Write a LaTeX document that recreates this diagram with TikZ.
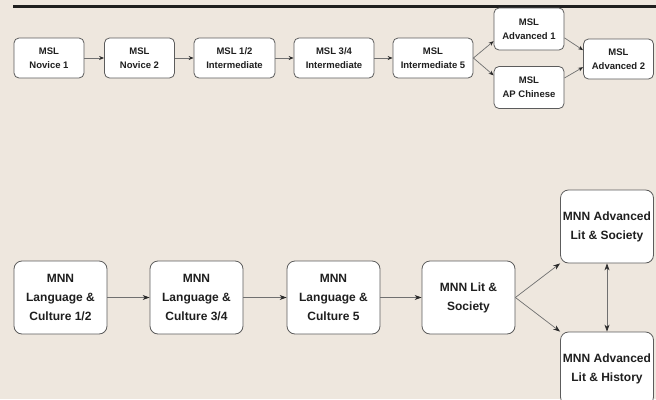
\documentclass[tikz,border=0pt]{standalone}
\usepackage{fontspec}
\setmainfont{Liberation Sans}
\usepackage{tikz}
\usetikzlibrary{
  arrows.meta,
  positioning
}
\definecolor{paper}{HTML}{EEE7DE}
\definecolor{ink}{HTML}{1F1F1F}
\definecolor{edge}{HTML}{5C5C5C}
\definecolor{wire}{HTML}{707070}
\definecolor{tip}{HTML}{2A2A2A}
\tikzset{
  course/.style={
    draw=edge,
    fill=white,
    line width=0.8pt,
    align=center,
    text=ink,
    inner sep=0pt
  },
  msl/.style={
    course,
    rounded corners=5pt,
    minimum width=70pt,
    minimum height=40pt,
    font=\bfseries\fontsize{9.5}{14}\selectfont
  },
  mnn/.style={
    course,
    rounded corners=8pt,
    minimum width=93pt,
    minimum height=73pt,
    font=\bfseries\fontsize{12}{19}\selectfont
  },
  step arrow/.style={
    -{Stealth[length=5pt, width=4pt, color=tip]},
    line width=0.7pt,
    draw=wire
  },
  big arrow/.style={
    -{Stealth[length=7pt, width=5pt, color=tip]},
    line width=0.7pt,
    draw=wire
  },
  both arrow/.style={
    big arrow,
    {Stealth[length=7pt, width=5pt, color=tip]}-{Stealth[length=7pt, width=5pt, color=tip]}
  }
}

\begin{document}
\begin{tikzpicture}[x=1pt,y=-1pt]
  % Page, background and top rule.
  \clip (0,0) rectangle (656,399);
  \fill[paper] (0,0) rectangle (656,399);
  \draw[line width=2.4pt, ink] (13,6.5) -- (656,6.5);

  % MSL track.
  \node[msl] (nov1) at (49,58) {MSL\\Novice 1};
  \node[msl] (nov2) at (139.5,58) {MSL\\Novice 2};
  \node[msl, minimum width=81pt] (int12) at (234.5,58) {MSL 1/2\\Intermediate};
  \node[msl, minimum width=80pt] (int34) at (334,58) {MSL 3/4\\Intermediate};
  \node[msl, minimum width=80pt] (int5) at (433,58) {MSL\\Intermediate 5};
  \node[msl, minimum height=42pt] (adv1) at (529,29) {MSL\\Advanced 1};
  \node[msl, minimum height=42pt] (apch) at (529,87.5) {MSL\\AP Chinese};
  \node[msl] (adv2) at (618.5,59) {MSL\\Advanced 2};

  \draw[step arrow] (nov1) -- (nov2);
  \draw[step arrow] (nov2) -- (int12);
  \draw[step arrow] (int12) -- (int34);
  \draw[step arrow] (int34) -- (int5);
  \draw[step arrow] (int5.east) -- (adv1.199);
  \draw[step arrow] (int5.east) -- (apch.161);
  \draw[step arrow] (adv1.346) -- (adv2.166);
  \draw[step arrow] (apch.15) -- (adv2.193);

  % MNN track.
  \node[mnn] (lc12) at (60.5,297.5) {MNN\\Language \&\\Culture 1/2};
  \node[mnn] (lc34) at (196.5,297.5) {MNN\\Language \&\\Culture 3/4};
  \node[mnn] (lc5) at (333.5,297.5) {MNN\\Language \&\\Culture 5};
  \node[mnn] (litsoc) at (468.5,297.5) {MNN Lit \&\\Society};
  \node[mnn] (advsoc) at (607,226.5) {MNN Advanced\\Lit \& Society};
  \node[mnn] (advhist) at (607,368.5) {MNN Advanced\\Lit \& History};

  \draw[big arrow] (lc12) -- (lc34);
  \draw[big arrow] (lc34) -- (lc5);
  \draw[big arrow] (lc5) -- (litsoc);
  \draw[big arrow] (litsoc.east) -- (advsoc.south west);
  \draw[big arrow] (litsoc.east) -- (advhist.north west);
  \draw[both arrow] (advsoc.south) -- (advhist.north);
\end{tikzpicture}
\end{document}
